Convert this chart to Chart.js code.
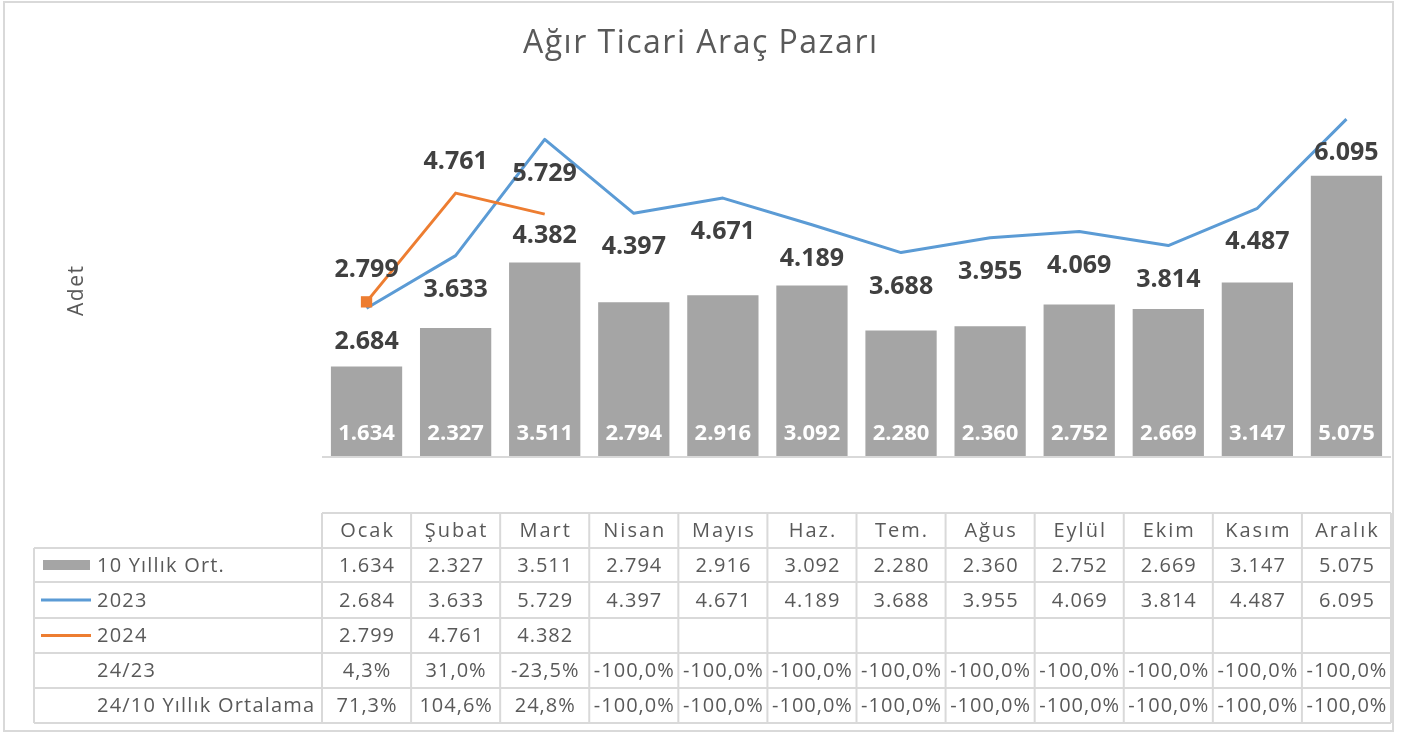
<!DOCTYPE html>
<html lang="tr">
<head>
<meta charset="utf-8">
<title>Ağır Ticari Araç Pazarı</title>
<script src="https://cdn.jsdelivr.net/npm/chart.js@4.4.1/dist/chart.umd.min.js"></script>
<style>
  html, body { margin: 0; padding: 0; background: #fff; }
  #chart { display: block; }
</style>
</head>
<body>
<canvas id="chart" width="1410" height="734"></canvas>
<script>
// --- data ---
const months = ['Ocak', 'Şubat', 'Mart', 'Nisan', 'Mayıs', 'Haz.', 'Tem.', 'Ağus', 'Eylül', 'Ekim', 'Kasım', 'Aralık'];
const avg10 = [1634, 2327, 3511, 2794, 2916, 3092, 2280, 2360, 2752, 2669, 3147, 5075];
const sales2023 = [2684, 3633, 5729, 4397, 4671, 4189, 3688, 3955, 4069, 3814, 4487, 6095];
const sales2024 = [2799, 4761, 4382, null, null, null, null, null, null, null, null, null];
const chg2423 = [4.3, 31.0, -23.5, -100, -100, -100, -100, -100, -100, -100, -100, -100];
const chg24avg = [71.3, 104.6, 24.8, -100, -100, -100, -100, -100, -100, -100, -100, -100];
const yTicks = [0, 7000];

const FONT = "'Open Sans', 'DejaVu Sans', sans-serif";
const GRID = '#d9d9d9';
const TXT = '#595959';
const GRAY = '#a5a5a5';
const BLUE = '#5b9bd5';
const ORANGE = '#ed7d31';

// label offsets (px) from each line point
const off2023 = 34;
const off2024 = [-32, -31, 22];

function fmtInt(n) {
  return String(n).replace(/\B(?=(\d{3})+(?!\d))/g, '.');
}
function fmtPct(n) {
  return n.toFixed(1).replace('.', ',') + '%';
}
// centred text that also works with letterSpacing (trailing gap removed)
function spacedText(ctx, s, x, y, sp) {
  ctx.letterSpacing = sp + 'px';
  ctx.fillText(s, x + (ctx.textAlign === 'center' ? sp / 2 : 0), y);
  ctx.letterSpacing = '0px';
}

// white background, outer frame, title, axis name
const framePlugin = {
  id: 'frame',
  beforeDraw(chart) {
    const ctx = chart.ctx;
    ctx.save();
    ctx.fillStyle = '#fff';
    ctx.fillRect(0, 0, chart.width, chart.height);
    ctx.strokeStyle = GRID;
    ctx.lineWidth = 2;
    ctx.strokeRect(4, 2, 1389, 729);

    ctx.fillStyle = TXT;
    ctx.textAlign = 'center';
    ctx.textBaseline = 'middle';
    ctx.font = '32px ' + FONT;
    spacedText(ctx, 'Ağır Ticari Araç Pazarı', 700, 44, 1.5);

    ctx.translate(77, 291);
    ctx.rotate(-Math.PI / 2);
    ctx.font = '21px ' + FONT;
    spacedText(ctx, 'Adet', 0, 0, 1.5);
    ctx.restore();
  },
  afterDatasetsDraw(chart) {
    const ctx = chart.ctx;
    const y = chart.scales.y;
    const area = chart.chartArea;
    const base = y.getPixelForValue(0);
    ctx.save();
    ctx.strokeStyle = GRID;
    ctx.lineWidth = 2;
    ctx.beginPath();
    ctx.moveTo(area.left, base);
    ctx.lineTo(area.right, base);
    ctx.stroke();

    ctx.textAlign = 'center';
    ctx.textBaseline = 'middle';

    // values inside the bars
    ctx.fillStyle = '#fff';
    ctx.font = 'bold 22px ' + FONT;
    chart.getDatasetMeta(0).data.forEach((el, i) => {
      ctx.fillText(fmtInt(avg10[i]), el.x, base - 23);
    });

    // line values
    ctx.fillStyle = '#404040';
    ctx.font = 'bold 25px ' + FONT;
    chart.getDatasetMeta(1).data.forEach((el, i) => {
      ctx.fillText(fmtInt(sales2023[i]), el.x, el.y + off2023);
    });
    chart.getDatasetMeta(2).data.forEach((el, i) => {
      if (sales2024[i] == null) return;
      ctx.fillText(fmtInt(sales2024[i]), el.x, el.y + off2024[i]);
    });
    ctx.restore();
  }
};

// data table under the plot, columns follow the category scale
const tablePlugin = {
  id: 'dataTable',
  afterDraw(chart) {
    const ctx = chart.ctx;
    const x = chart.scales.x;
    const area = chart.chartArea;
    const colW = (area.right - area.left) / months.length;
    const left = 34;
    const rows = [513, 548, 582, 618, 653, 688, 723];

    ctx.save();
    ctx.strokeStyle = GRID;
    ctx.lineWidth = 2;
    ctx.beginPath();
    // header row (month names), columns only
    ctx.moveTo(area.left, rows[0]);
    ctx.lineTo(area.right, rows[0]);
    for (let r = 1; r < rows.length; r++) {
      ctx.moveTo(left, rows[r]);
      ctx.lineTo(area.right, rows[r]);
    }
    ctx.moveTo(left, rows[1]);
    ctx.lineTo(left, rows[rows.length - 1]);
    for (let c = 0; c <= months.length; c++) {
      const cx = area.left + c * colW;
      ctx.moveTo(cx, rows[0]);
      ctx.lineTo(cx, rows[rows.length - 1]);
    }
    ctx.stroke();

    const mid = r => (rows[r] + rows[r + 1]) / 2 + 1;
    const sp = 1;
    ctx.fillStyle = TXT;
    ctx.font = '20px ' + FONT;
    ctx.textBaseline = 'middle';
    ctx.textAlign = 'center';
    months.forEach((m, i) => {
      const cx = x.getPixelForValue(i);
      spacedText(ctx, m, cx, mid(0), 2);
      spacedText(ctx, fmtInt(avg10[i]), cx, mid(1), sp);
      spacedText(ctx, fmtInt(sales2023[i]), cx, mid(2), sp);
      if (sales2024[i] != null) spacedText(ctx, fmtInt(sales2024[i]), cx, mid(3), sp);
      spacedText(ctx, fmtPct(chg2423[i]), cx, mid(4), sp);
      spacedText(ctx, fmtPct(chg24avg[i]), cx, mid(5), sp);
    });

    // row headers with legend keys
    const names = ['10 Yıllık Ort.', '2023', '2024', '24/23', '24/10 Yıllık Ortalama'];
    ctx.textAlign = 'left';
    names.forEach((n, k) => spacedText(ctx, n, 97, mid(k + 1), 1.2));

    ctx.fillStyle = GRAY;
    ctx.fillRect(43, mid(1) - 6, 47, 10);
    ctx.lineWidth = 3;
    ctx.strokeStyle = BLUE;
    ctx.beginPath();
    ctx.moveTo(41, mid(2) - 1);
    ctx.lineTo(91, mid(2) - 1);
    ctx.stroke();
    ctx.strokeStyle = ORANGE;
    ctx.beginPath();
    ctx.moveTo(41, mid(3) - 1);
    ctx.lineTo(91, mid(3) - 1);
    ctx.stroke();
    ctx.restore();
  }
};

new Chart(document.getElementById('chart'), {
  data: {
    labels: months,
    datasets: [
      {
        type: 'bar',
        label: '10 Yıllık Ort.',
        data: avg10,
        backgroundColor: GRAY,
        categoryPercentage: 0.8,
        barPercentage: 1,
        order: 2
      },
      {
        type: 'line',
        label: '2023',
        data: sales2023,
        borderColor: BLUE,
        borderWidth: 3,
        pointRadius: 0,
        tension: 0,
        borderJoinStyle: 'round',
        order: 1
      },
      {
        type: 'line',
        label: '2024',
        data: sales2024,
        borderColor: ORANGE,
        backgroundColor: ORANGE,
        borderWidth: 3,
        pointStyle: 'rect',
        pointRadius: [8, 0, 0],
        pointBorderWidth: 0,
        tension: 0,
        borderJoinStyle: 'round',
        order: 0
      }
    ]
  },
  options: {
    responsive: false,
    animation: false,
    layout: { padding: { left: 322, right: 19, top: 69, bottom: 277 } },
    scales: {
      x: { display: false, offset: true },
      y: { display: false, min: yTicks[0], max: yTicks[1] }
    },
    plugins: {
      legend: { display: false },
      tooltip: { enabled: false }
    }
  },
  plugins: [framePlugin, tablePlugin]
});
</script>
</body>
</html>
